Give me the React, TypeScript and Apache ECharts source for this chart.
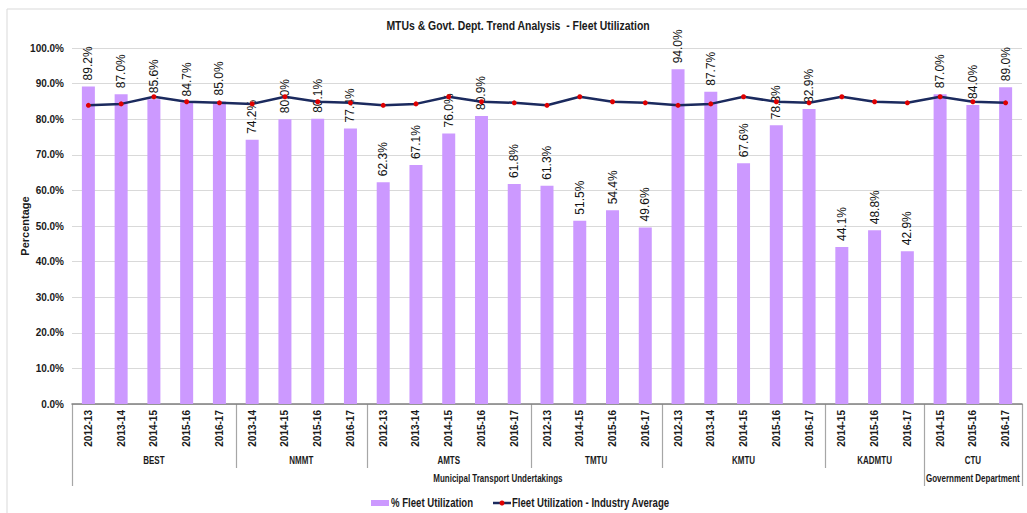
import React, { useEffect, useRef } from "react";
import * as echarts from "echarts";

// Operators and the years reported for each
const operators = ["BEST", "NMMT", "AMTS", "TMTU", "KMTU", "KADMTU", "CTU"];
const bestYears = ["2012-13", "2013-14", "2014-15", "2015-16", "2016-17"];
const nmmtYears = ["2013-14", "2014-15", "2015-16", "2016-17"];
const amtsYears = ["2012-13", "2013-14", "2014-15", "2015-16", "2016-17"];
const tmtuYears = ["2012-13", "2014-15", "2015-16", "2016-17"];
const kmtuYears = ["2012-13", "2013-14", "2014-15", "2015-16", "2016-17"];
const kadmtuYears = ["2014-15", "2015-16", "2016-17"];
const ctuYears = ["2014-15", "2015-16", "2016-17"];

// % fleet utilization per operator and year
const bestValues = [89.2, 87.0, 85.6, 84.7, 85.0];
const nmmtValues = [74.2, 80.0, 80.1, 77.4];
const amtsValues = [62.3, 67.1, 76.0, 80.9, 61.8];
const tmtuValues = [61.3, 51.5, 54.4, 49.6];
const kmtuValues = [94.0, 87.7, 67.6, 78.3, 82.9];
const kadmtuValues = [44.1, 48.8, 42.9];
const ctuValues = [87.0, 84.0, 89.0];

// Industry average fleet utilization by year
const avgYears = ["2012-13", "2013-14", "2014-15", "2015-16", "2016-17"];
const avgValues = [83.9, 84.3, 86.3, 84.9, 84.6];

// Sector headings and how many operators each spans
const sectorNames = ["Municipal Transport Undertakings", "Government Department"];
const sectorSizes = [6, 1];

const yTicks = [0, 10, 20, 30, 40, 50, 60, 70, 80, 90, 100];

const TITLE = "MTUs & Govt. Dept. Trend Analysis  - Fleet Utilization";
const BAR_NAME = "% Fleet Utilization";
const LINE_NAME = "Fleet Utilization - Industry Average";

const FONT = "'Liberation Sans', Arial, sans-serif";
const INK = "#1a1a1a";
const BAR_COLOR = "#cc99ff";
const LINE_COLOR = "#1b2a5e";
const DOT_COLOR = "#e00000";

// condensed bold text (horizontally squeezed)
const narrowText = (text: string, x: number, y: number, size: number, squeeze: number, align = "center") => ({
  type: "text",
  x,
  y,
  scaleX: squeeze,
  silent: true,
  style: {
    text,
    x: 0,
    y: 0,
    fontFamily: FONT,
    fontSize: size,
    fontWeight: "bold",
    fill: INK,
    align,
    verticalAlign: "middle",
  },
});

export default function App() {
  const ref = useRef<HTMLDivElement>(null);

  useEffect(() => {
    if (!ref.current) return;
    document.body.style.margin = "0";
    const chart = echarts.init(ref.current, undefined, { renderer: "svg" });

    const yearLists = [bestYears, nmmtYears, amtsYears, tmtuYears, kmtuYears, kadmtuYears, ctuYears];
    const valueLists = [bestValues, nmmtValues, amtsValues, tmtuValues, kmtuValues, kadmtuValues, ctuValues];

    const categories: string[] = [];
    const barData: number[] = [];
    const lineData: number[] = [];
    const groupStart: number[] = [];
    yearLists.forEach((years, g) => {
      groupStart.push(categories.length);
      years.forEach((y, i) => {
        categories.push(operators[g] + "|" + y);
        barData.push(valueLists[g][i]);
        lineData.push(avgValues[avgYears.indexOf(y)]);
      });
    });
    groupStart.push(categories.length);

    chart.setOption({
      animation: false,
      backgroundColor: "#ffffff",
      grid: { left: 72, right: 5, top: 48, bottom: 109, containLabel: false },
      xAxis: {
        type: "category",
        data: categories,
        axisLine: { show: true, lineStyle: { color: "#7f7f7f", width: 1.5 } },
        axisTick: { show: false },
        axisLabel: {
          interval: 0,
          rotate: 90,
          margin: 6,
          fontFamily: FONT,
          fontSize: 10,
          fontWeight: "bold",
          color: INK,
          formatter: (v: string) => v.split("|")[1],
        },
      },
      yAxis: {
        type: "value",
        min: yTicks[0],
        max: yTicks[yTicks.length - 1],
        interval: 10,
        axisLine: { show: false },
        axisTick: { show: false },
        splitLine: { lineStyle: { color: "#d9d9d9", width: 1 } },
        axisLabel: {
          margin: 8,
          fontFamily: FONT,
          fontSize: 10,
          fontWeight: "bold",
          color: INK,
          formatter: (v: number) => v.toFixed(1) + "%",
        },
      },
      series: [
        {
          name: BAR_NAME,
          type: "bar",
          data: barData,
          barWidth: 13,
          z: 2,
          itemStyle: { color: BAR_COLOR },
          label: {
            show: true,
            position: "top",
            rotate: 90,
            align: "left",
            verticalAlign: "middle",
            distance: 6,
            fontFamily: FONT,
            fontSize: 12,
            color: "#111",
            formatter: (p: any) => p.value.toFixed(1) + "%",
          },
        },
        {
          name: LINE_NAME,
          type: "line",
          data: lineData,
          z: 5,
          symbol: "circle",
          symbolSize: 5,
          lineStyle: { color: LINE_COLOR, width: 2.5 },
          itemStyle: { color: DOT_COLOR, borderColor: DOT_COLOR, borderWidth: 0 },
        },
      ],
    });

    // Group separators and headings beneath the category axis
    const px = (i: number) => chart.convertToPixel({ xAxisIndex: 0 }, i) as number;
    const band = categories.length > 1 ? px(1) - px(0) : 0;
    const edge = (i: number) =>
      px(Math.min(i, categories.length - 1)) + (i >= categories.length ? band / 2 : -band / 2);
    const axisY = chart.convertToPixel({ yAxisIndex: 0 }, 0) as number;
    const topY = chart.convertToPixel({ yAxisIndex: 0 }, 100) as number;

    const graphics: any[] = [
      {
        type: "rect",
        shape: { x: 7, y: 9, width: 1040, height: 540 },
        style: { fill: "none", stroke: "#d9d9d9", lineWidth: 1 },
        silent: true,
        z: -10,
      },
      narrowText(TITLE, 518, 26, 12, 0.87),
      {
        type: "text",
        x: 25,
        y: (axisY + topY) / 2,
        rotation: Math.PI / 2,
        silent: true,
        style: {
          text: "Percentage",
          fontFamily: FONT,
          fontSize: 11,
          fontWeight: "bold",
          fill: INK,
          align: "center",
          verticalAlign: "middle",
        },
      },
    ];

    // sector boundaries get the long lines
    const longEdges = new Set<number>([0]);
    let acc = 0;
    sectorSizes.forEach((n) => {
      acc += n;
      longEdges.add(groupStart[acc]);
    });

    groupStart.forEach((start) => {
      const x = Math.round(edge(start)) + 0.5;
      const long = longEdges.has(start);
      graphics.push({
        type: "line",
        shape: { x1: x, y1: axisY, x2: x, y2: axisY + (long ? 82 : 64) },
        style: { stroke: "#a6a6a6", lineWidth: 1.2 },
        silent: true,
      });
    });

    operators.forEach((name, g) => {
      const cx = (edge(groupStart[g]) + edge(groupStart[g + 1])) / 2;
      graphics.push(narrowText(name, cx, axisY + 57, 10, 0.8));
    });

    let g0 = 0;
    sectorNames.forEach((name, s) => {
      const g1 = g0 + sectorSizes[s];
      const cx = (edge(groupStart[g0]) + edge(groupStart[g1])) / 2;
      graphics.push(narrowText(name, cx, axisY + 75, 10, 0.8));
      g0 = g1;
    });

    // legend
    const ly = 503;
    graphics.push(
      {
        type: "rect",
        shape: { x: 371, y: ly - 3, width: 18, height: 6 },
        style: { fill: BAR_COLOR },
        silent: true,
      },
      narrowText(BAR_NAME, 391, ly, 12, 0.8, "left"),
      {
        type: "line",
        shape: { x1: 493, y1: ly, x2: 511, y2: ly },
        style: { stroke: LINE_COLOR, lineWidth: 2.5 },
        silent: true,
      },
      {
        type: "circle",
        shape: { cx: 502, cy: ly, r: 2.5 },
        style: { fill: DOT_COLOR },
        silent: true,
      },
      narrowText(LINE_NAME, 512, ly, 12, 0.8, "left")
    );

    chart.setOption({ graphic: graphics });

    return () => chart.dispose();
  }, []);

  return (
    <div
      ref={ref}
      style={{ position: "absolute", left: 0, top: 0, width: 1027, height: 513 }}
    />
  );
}
